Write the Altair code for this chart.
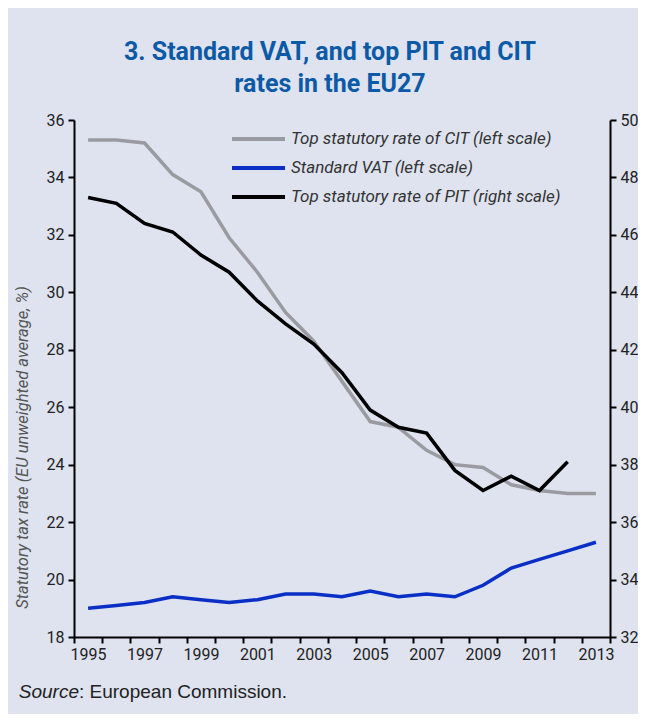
import altair as alt
import pandas as pd

years = list(range(1995, 2014))
cit = [35.3, 35.3, 35.2, 34.1, 33.5, 31.9, 30.7, 29.3, 28.3, 26.9, 25.5, 25.3, 24.5, 24.0, 23.9, 23.3, 23.1, 23.0, 23.0]
vat = [19.0, 19.1, 19.2, 19.4, 19.3, 19.2, 19.3, 19.5, 19.5, 19.4, 19.6, 19.4, 19.5, 19.4, 19.8, 20.4, 20.7, 21.0, 21.3]
pit = [47.3, 47.1, 46.4, 46.1, 45.3, 44.7, 43.7, 42.9, 42.2, 41.2, 39.9, 39.3, 39.1, 37.8, 37.1, 37.6, 37.1, 38.1, None]

s_cit = "Top statutory rate of CIT (left scale)"
s_vat = "Standard VAT (left scale)"
s_pit = "Top statutory rate of  PIT (right scale)"
series = [s_cit, s_vat, s_pit]
colors = ["#9A9BA1", "#0A2FC6", "#000000"]

rows = []
for i, y in enumerate(years):
    rows.append({"year": y, "series": s_cit, "value": cit[i]})
    rows.append({"year": y, "series": s_vat, "value": vat[i]})
    if pit[i] is not None:
        rows.append({"year": y, "series": s_pit, "value": pit[i]})
df = pd.DataFrame(rows)

FONT = "Roboto"
BG = "#DEE3EF"

x_enc = alt.X(
    "year:O",
    scale=alt.Scale(type="band", paddingInner=0, paddingOuter=0),
    axis=alt.Axis(
        title=None,
        labelAngle=0,
        tickBand="extent",
        labelExpr="datum.value % 2 == 1 ? datum.label : ''",
        labelFontSize=16,
        labelFont=FONT,
        labelColor="#222222",
        labelPadding=3,
        tickSize=6,
        tickWidth=2,
        tickColor="#000000",
        domainColor="#000000",
        domainWidth=2,
        grid=False,
    ),
)

color_enc = alt.Color(
    "series:N",
    scale=alt.Scale(domain=series, range=colors),
    legend=alt.Legend(
        title=None,
        orient="none",
        legendX=156,
        legendY=9,
        symbolType="stroke",
        symbolSize=2809,
        symbolStrokeWidth=4,
        clipHeight=20,
        rowPadding=9,
        labelOffset=4,
        labelFont=FONT,
        labelFontStyle="italic",
        labelFontSize=17,
        labelColor="#333333",
        labelLimit=400,
        padding=0,
    ),
)

left = alt.Chart(df).transform_filter(
    alt.FieldOneOfPredicate(field="series", oneOf=[s_cit, s_vat])
).mark_line(strokeWidth=3.5).encode(
    x=x_enc,
    y=alt.Y(
        "value:Q",
        scale=alt.Scale(domain=[18, 36], nice=False, zero=False),
        axis=alt.Axis(
            values=list(range(18, 37, 2)),
            title="Statutory tax rate (EU unweighted average, %)",
            titleFont=FONT,
            titleFontStyle="italic",
            titleFontWeight="normal",
            titleFontSize=16.5,
            titleColor="#555555",
            titleX=-47,
            titleY=327,
            titleBaseline="alphabetic",
            labelFontSize=16,
            labelFont=FONT,
            labelColor="#222222",
            labelPadding=4,
            tickSize=6,
            tickWidth=2,
            tickColor="#000000",
            domainColor="#000000",
            domainWidth=2,
            grid=False,
        ),
    ),
    color=color_enc,
    order="year:O",
)

right = alt.Chart(df).transform_filter(
    alt.FieldEqualPredicate(field="series", equal=s_pit)
).mark_line(strokeWidth=3.5).encode(
    x=x_enc,
    y=alt.Y(
        "value:Q",
        scale=alt.Scale(domain=[32, 50], nice=False, zero=False),
        axis=alt.Axis(
            orient="right",
            values=list(range(32, 51, 2)),
            title=None,
            labelFontSize=16,
            labelFont=FONT,
            labelColor="#222222",
            labelPadding=4,
            tickSize=6,
            tickWidth=2,
            tickColor="#000000",
            domainColor="#000000",
            domainWidth=2,
            grid=False,
        ),
    ),
    color=color_enc,
    order="year:O",
)

SRC_FONT = "Liberation Sans"
src = pd.DataFrame({"a": [0]})
source1 = alt.Chart(src).mark_text(
    text="Source", font=SRC_FONT, fontStyle="italic", fontSize=19, align="right",
    baseline="alphabetic", color="#222222"
).encode(x=alt.value(5), y=alt.value(578))
source2 = alt.Chart(src).mark_text(
    text=": European Commission.", font=SRC_FONT, fontSize=19, align="left",
    baseline="alphabetic", color="#222222"
).encode(x=alt.value(5), y=alt.value(578))

chart = alt.layer(left, right, source1, source2).resolve_scale(
    y="independent"
).properties(
    width=536,
    height=517,
    autosize=alt.AutoSizeParams(type="none"),
    padding={"left": 66, "top": 112, "right": 28, "bottom": 77},
    background=BG,
    title=alt.Title(
        text=["3. Standard VAT, and top PIT and CIT", "rates in the EU27"],
        font=FONT,
        fontSize=25,
        fontWeight="bold",
        color="#0C5AA6",
        anchor="middle",
        lineHeight=32,
        offset=15,
        dx=-12,
    ),
).configure_view(stroke=None)

chart.save("out.html", embed_options={"renderer": "svg", "actions": False})
